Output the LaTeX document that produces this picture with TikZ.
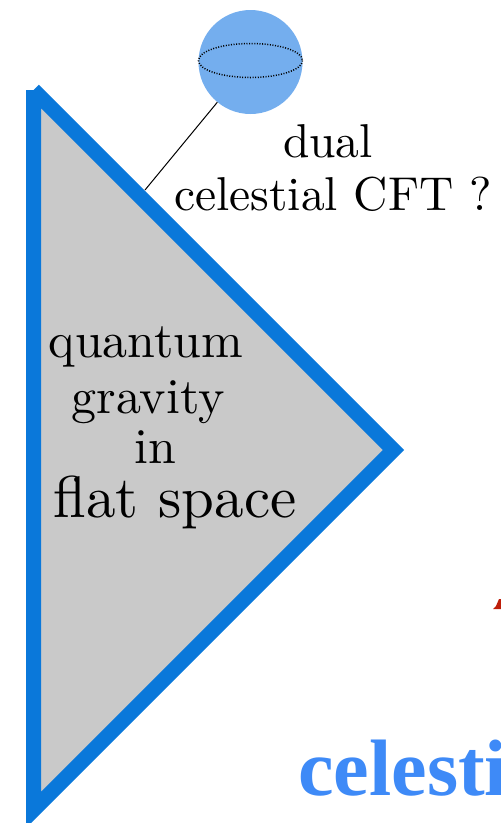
\documentclass[tikz,border=0pt]{standalone}
\usepackage{fontspec}
\setmainfont{lmroman10-regular.otf}
\newfontfamily\timesbold{Liberation Serif}[BoldFont={* Bold}]
\definecolor{triblue}{RGB}{10,120,218}
\definecolor{trigray}{RGB}{201,201,201}
\definecolor{sphblue}{RGB}{116,174,238}
\definecolor{celblue}{RGB}{62,138,247}
\definecolor{redfrag}{RGB}{190,30,10}
\tikzset{
  lbl/.style={inner sep=0pt, anchor=base, text=black},
  midfont/.style={font=\fontsize{47.5}{53}\selectfont},
  bigfont/.style={font=\fontsize{50}{56}\selectfont},
  hugefont/.style={font=\fontsize{59}{64}\selectfont},
}
\begin{document}
\begin{tikzpicture}[x=1pt,y=-1pt]
\useasboundingbox (0,0) rectangle (501,823);
\clip (0,0) rectangle (501,823);
% triangle (open path: butt ends at the top vertex)
\coordinate (ttop) at (33.5,90);
\coordinate (tright) at (393.5,450);
\coordinate (tbot) at (33.5,810);
\fill[trigray] (ttop) -- (tright) -- (tbot) -- cycle;
\draw[triblue, line width=15pt, line join=miter, line cap=butt] (ttop) -- (tright) -- (tbot) -- (ttop);
% sphere
\node[circle, fill=sphblue, minimum size=104pt, inner sep=0pt] (sph) at (250.5,62) {};
\draw[black, line width=1.5pt, dash pattern=on 1pt off 1.6pt] (250.5,60.5) ellipse [x radius=52, y radius=17];
\coordinate (tip) at (145,190);
\draw[black, line width=1pt] (sph) -- (tip);
% labels
\node[lbl, midfont] (dual) at (328,157) {dual};
\node[lbl, midfont] (cft) at (333,210) {celestial CFT ?};
\node[lbl, bigfont] (qu) at (146,357) {quantum};
\node[lbl, bigfont] (gr) at (148,413) {gravity};
\node[lbl, bigfont] (inn) at (155,463) {in};
\node[lbl, hugefont] (fs) at (175,517) {flat space};
% bottom cut text
\node[inner sep=0pt, anchor=base west, text=celblue, font=\timesbold\bfseries\fontsize{80}{90}\selectfont] (cel) at (298,795) {celestial};
% red fragment at right edge
\fill[redfrag] (493,609) -- (502,609) -- (502,599) -- (499,599) -- (496,606) -- cycle;
\end{tikzpicture}
\end{document}
